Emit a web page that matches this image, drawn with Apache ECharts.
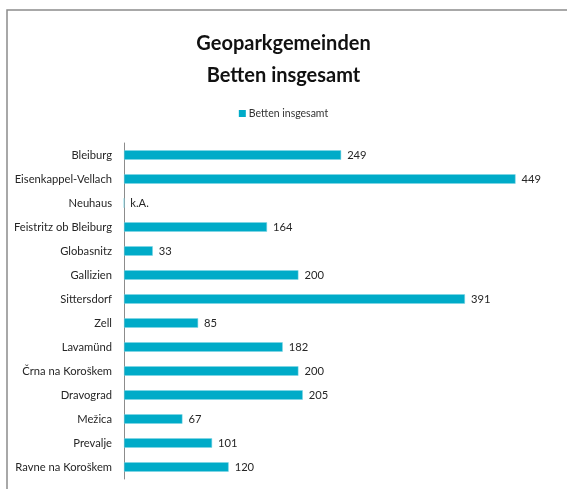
<!DOCTYPE html>
<html>
<head>
<meta charset="utf-8">
<script src="https://cdn.jsdelivr.net/npm/echarts@6/dist/echarts.min.js"></script>
<style>
  html, body { margin: 0; padding: 0; background: #fff; }
  #chart { width: 567px; height: 489px; }
</style>
</head>
<body>
<div id="chart"></div>
<script>
// Gemeinden, top to bottom as in the picture
const categories = ['Bleiburg', 'Eisenkappel-Vellach', 'Neuhaus', 'Feistritz ob Bleiburg', 'Globasnitz',
    'Gallizien', 'Sittersdorf', 'Zell', 'Lavamünd', 'Črna na Koroškem', 'Dravograd', 'Mežica',
    'Prevalje', 'Ravne na Koroškem'];
// null = keine Angabe (k.A.)
const betten = [249, 449, null, 164, 33, 200, 391, 85, 182, 200, 205, 67, 101, 120];
const seriesName = 'Betten insgesamt';

const chart = echarts.init(document.getElementById('chart'));
const font = 'Lato';

const barData = betten.map(v => v === null
    ? { value: 0, label: { formatter: 'k.A.' } }
    : v);

const chartOptions = {
    animation: false,
    textStyle: { fontFamily: font },
    title: {
        text: 'Geoparkgemeinden\nBetten insgesamt',
        left: 'center',
        top: 23,
        textStyle: { fontFamily: font, fontSize: 20, fontWeight: 'bold', color: '#111', lineHeight: 32 }
    },
    legend: {
        top: 103,
        left: 'center',
        icon: 'rect',
        itemWidth: 7,
        itemHeight: 7,
        itemGap: 4,
        data: [seriesName],
        itemStyle: { borderWidth: 0 },
        textStyle: { fontFamily: font, fontSize: 10.5, color: '#333', padding: [0, 0, 0, -2] }
    },
    graphic: [{
        type: 'rect',
        shape: { x: 7, y: 10, width: 600, height: 520 },
        style: { fill: 'none', stroke: '#8c8c8c', lineWidth: 1.5 },
        silent: true
    }],
    grid: { left: 124, top: 143, width: 436, height: 336 },
    xAxis: {
        type: 'value',
        min: 0,
        max: 500,
        show: false
    },
    yAxis: {
        type: 'category',
        data: categories,
        inverse: true,
        axisLine: { lineStyle: { color: '#8c8c8c', width: 1 } },
        axisTick: { show: false },
        axisLabel: { fontFamily: font, fontSize: 11.2, color: '#262626', margin: 12 }
    },
    series: [{
        name: seriesName,
        type: 'bar',
        data: barData,
        barWidth: 9.5,
        itemStyle: { color: '#00abc8', borderColor: '#7fd5e4', borderWidth: 0.5 },
        label: {
            show: true,
            position: 'right',
            distance: 6,
            fontFamily: font,
            fontSize: 11.2,
            color: '#262626'
        }
    }]
};

chart.setOption(chartOptions);
</script>
</body>
</html>
